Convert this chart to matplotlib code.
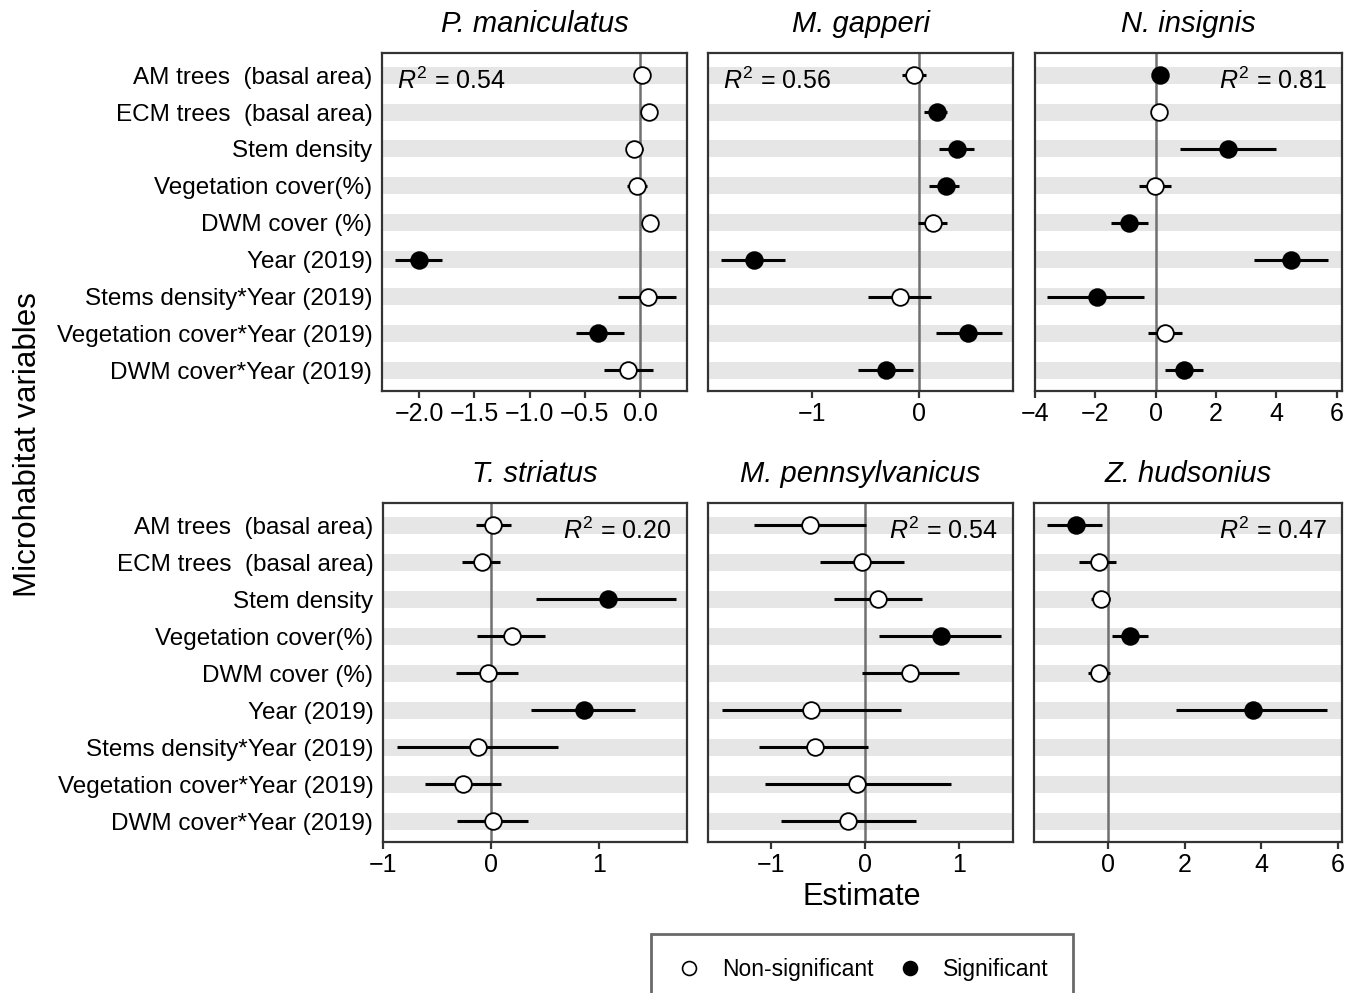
import numpy as np
import matplotlib
matplotlib.use("Agg")
import matplotlib.pyplot as plt
from matplotlib.lines import Line2D

plt.rcParams['font.family'] = ['Liberation Sans', 'DejaVu Sans']
plt.rcParams['mathtext.fontset'] = 'custom'
plt.rcParams['mathtext.rm'] = 'Liberation Sans'
plt.rcParams['mathtext.it'] = 'Liberation Sans:italic'

variables = ["AM trees  (basal area)", "ECM trees  (basal area)", "Stem density",
             "Vegetation cover(%)", "DWM cover (%)", "Year (2019)",
             "Stems density*Year (2019)", "Vegetation cover*Year (2019)",
             "DWM cover*Year (2019)"]

species = ["P. maniculatus", "M. gapperi", "N. insignis",
           "T. striatus", "M. pennsylvanicus", "Z. hudsonius"]
r2 = ["0.54", "0.56", "0.81", "0.20", "0.54", "0.47"]

# estimates, lower and upper CI, significance (order = variables, top to bottom)
p_man_est = [0.02, 0.085, -0.05, -0.03, 0.09, -2.0, 0.07, -0.38, -0.11]
p_man_lo = [-0.01, 0.06, -0.12, -0.12, 0.02, -2.22, -0.20, -0.58, -0.33]
p_man_hi = [0.05, 0.11, 0.03, 0.06, 0.16, -1.79, 0.33, -0.145, 0.12]
p_man_sig = [0, 0, 0, 0, 0, 1, 0, 1, 0]

m_gap_est = [-0.05, 0.17, 0.35, 0.25, 0.13, -1.545, -0.18, 0.46, -0.315]
m_gap_lo = [-0.16, 0.04, 0.18, 0.09, -0.01, -1.85, -0.48, 0.155, -0.57]
m_gap_hi = [0.06, 0.255, 0.51, 0.37, 0.255, -1.255, 0.105, 0.77, -0.056]
m_gap_sig = [0, 1, 1, 1, 0, 1, 0, 1, 1]

n_ins_est = [0.14, 0.11, 2.41, -0.02, -0.87, 4.48, -1.96, 0.30, 0.94]
n_ins_lo = [0.05, 0.02, 0.81, -0.55, -1.49, 3.24, -3.59, -0.25, 0.32]
n_ins_hi = [0.23, 0.20, 3.98, 0.52, -0.27, 5.70, -0.39, 0.86, 1.57]
n_ins_sig = [1, 0, 1, 0, 1, 1, 1, 0, 1]

t_str_est = [0.025, -0.086, 1.086, 0.20, -0.03, 0.86, -0.123, -0.255, 0.025]
t_str_lo = [-0.14, -0.27, 0.42, -0.126, -0.32, 0.375, -0.87, -0.615, -0.31]
t_str_hi = [0.185, 0.086, 1.72, 0.50, 0.255, 1.34, 0.62, 0.092, 0.345]
t_str_sig = [0, 0, 1, 0, 0, 1, 0, 0, 0]

m_pen_est = [-0.58, -0.035, 0.14, 0.81, 0.48, -0.57, -0.53, -0.08, -0.18]
m_pen_lo = [-1.18, -0.48, -0.33, 0.15, -0.035, -1.52, -1.12, -1.06, -0.89]
m_pen_hi = [0.01, 0.41, 0.60, 1.44, 1.0, 0.38, 0.035, 0.91, 0.54]
m_pen_sig = [0, 0, 0, 1, 0, 0, 0, 0, 0]

z_hud_est = [-0.83, -0.24, -0.18, 0.58, -0.22, 3.77, np.nan, np.nan, np.nan]
z_hud_lo = [-1.57, -0.74, -0.44, 0.10, -0.52, 1.77, np.nan, np.nan, np.nan]
z_hud_hi = [-0.16, 0.21, 0.06, 1.06, 0.06, 5.71, np.nan, np.nan, np.nan]
z_hud_sig = [1, 0, 0, 1, 0, 1, 0, 0, 0]

panels = [
    (p_man_est, p_man_lo, p_man_hi, p_man_sig),
    (m_gap_est, m_gap_lo, m_gap_hi, m_gap_sig),
    (n_ins_est, n_ins_lo, n_ins_hi, n_ins_sig),
    (t_str_est, t_str_lo, t_str_hi, t_str_sig),
    (m_pen_est, m_pen_lo, m_pen_hi, m_pen_sig),
    (z_hud_est, z_hud_lo, z_hud_hi, z_hud_sig),
]

xlims = [(-2.338, 0.426), (-1.975, 0.876), (-4.0, 6.17),
         (-0.99, 1.82), (-1.665, 1.57), (-1.92, 6.1)]
xticks = [[-2.0, -1.5, -1.0, -0.5, 0.0], [-1, 0], [-4, -2, 0, 2, 4, 6],
          [-1, 0, 1], [-1, 0, 1], [0, 2, 4, 6]]
xticklabels = [["\u22122.0", "\u22121.5", "\u22121.0", "\u22120.5", "0.0"],
               ["\u22121", "0"], ["\u22124", "\u22122", "0", "2", "4", "6"],
               ["\u22121", "0", "1"], ["\u22121", "0", "1"], ["0", "2", "4", "6"]]
r2_left = [True, True, False, False, False, False]

W, H = 1358, 993
fig = plt.figure(figsize=(W / 100, H / 100), dpi=100)

# pixel boxes (left, top, right, bottom)
boxes = [(382, 53, 687, 391), (708, 53, 1013, 391), (1035, 53, 1342, 391),
         (383, 503, 687, 842), (708, 503, 1013, 842), (1034, 503, 1342, 842)]

n = len(variables)
ypos = np.arange(n, 0, -1)  # top variable at 9

for i, (box, data) in enumerate(zip(boxes, panels)):
    l, t, r, b = box
    ax = fig.add_axes([l / W, 1 - b / H, (r - l) / W, (b - t) / H])
    est, lo, hi, sig = [np.asarray(d, dtype=float) for d in data]
    for y in ypos:
        ax.axhspan(y - 0.23, y + 0.23, color='#E6E6E6', lw=0, zorder=0)
    ax.axvline(0, color='#707070', lw=1.8, zorder=1)
    ax.hlines(ypos, lo, hi, color='black', lw=2.2, zorder=2)
    sigb = sig.astype(bool)
    ax.plot(est[~sigb], ypos[~sigb], 'o', ms=12, mfc='white', mec='black', mew=1.3,
            ls='none', zorder=3)
    ax.plot(est[sigb], ypos[sigb], 'o', ms=12, mfc='black', mec='black', mew=1.3,
            ls='none', zorder=3)
    ax.set_xlim(*xlims[i])
    ax.set_ylim(0.44, 9.6)
    ax.set_xticks(xticks[i])
    ax.set_xticklabels(xticklabels[i], fontsize=18)
    ax.set_yticks(ypos)
    if i in (0, 3):
        ax.set_yticklabels(variables, fontsize=17.5)
    else:
        ax.set_yticklabels([])
    ax.tick_params(axis='y', length=0, pad=7)
    ax.tick_params(axis='x', length=5, width=1.6, pad=3, color='#333333')
    for s in ax.spines.values():
        s.set_linewidth(1.6)
        s.set_color('#333333')
    ax.set_title(species[i], fontsize=21, style='italic', pad=15)
    txt = r"$R^2$ = " + r2[i]
    if r2_left[i]:
        ax.text(0.05, 8.85, txt, transform=ax.get_yaxis_transform(), fontsize=18,
                ha='left', va='center')
    else:
        ax.text(0.95, 8.85, txt, transform=ax.get_yaxis_transform(), fontsize=18,
                ha='right', va='center')

fig.text(862 / W, 1 - 897 / H, "Estimate", fontsize=22, ha='center', va='center')
fig.text(28 / W, 1 - 445 / H, "Microhabitat variables", fontsize=22.5, rotation=90,
         ha='center', va='center')

handles = [Line2D([], [], marker='o', ls='none', ms=10, mfc='white', mec='black', mew=1.2),
           Line2D([], [], marker='o', ls='none', ms=10, mfc='black', mec='black', mew=1.2)]
leg = fig.legend(handles, ["Non-significant", "Significant"], ncol=2, fontsize=16.5,
                 loc='upper center', bbox_to_anchor=(862 / W, 1 - 934 / H),
                 borderaxespad=0.0,
                 frameon=True, fancybox=False, borderpad=1.05, handletextpad=0.85,
                 columnspacing=1.0, handlelength=1.2)
leg.get_frame().set_edgecolor('#444444')
leg.get_frame().set_linewidth(2)

fig.savefig("out.png", dpi=100)
